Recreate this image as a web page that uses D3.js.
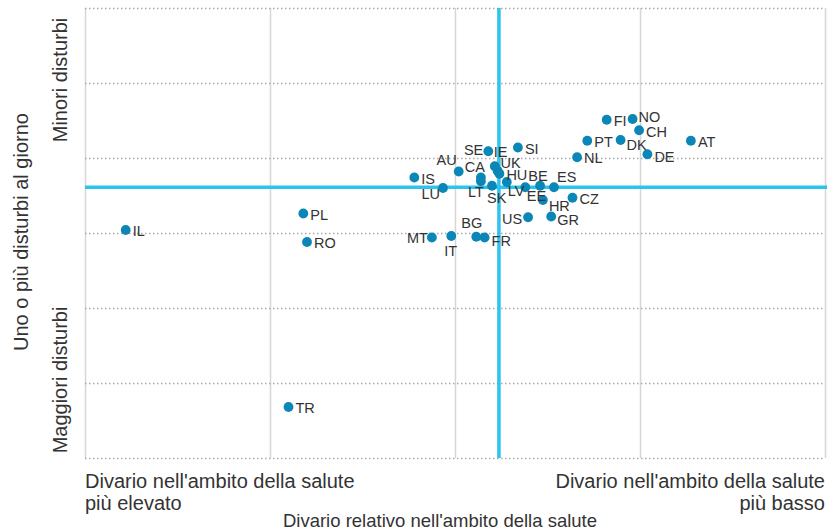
<!DOCTYPE html>
<html>
<head>
<meta charset="utf-8">
<script src="https://cdn.jsdelivr.net/npm/d3@7"></script>
<style>
  body { margin: 0; background: #fff; }
  svg text { font-family: "Liberation Sans", Arial, sans-serif; fill: #333; }
  .grid .domain { display: none; }
  .xgrid line { stroke: #d6d6d6; stroke-width: 1.5; }
  .ygrid line { stroke: #a9a9a9; stroke-width: 1.5; stroke-dasharray: 1.5 2.5; }
  .label { font-size: 14.5px; }
  .axis-title { font-size: 20px; }
  .axis-title.small { font-size: 18.5px; }
</style>
</head>
<body>
<div id="chart"></div>
<script>
"use strict";

// Country codes and their values
var countries = ['FI', 'NO', 'CH', 'PT', 'DK', 'AT', 'DE', 'NL', 'SI', 'SE',
  'IE', 'UK', 'AU', 'CA', 'IS', 'LU', 'LT', 'SK', 'HU', 'LV',
  'BE', 'EE', 'ES', 'HR', 'CZ', 'US', 'GR', 'MT', 'IT', 'BG',
  'FR', 'PL', 'RO', 'IL', 'TR'];

// relative health gap (higher = smaller gap)
var healthGap = [56.4, 59.2, 59.9, 54.3, 57.9, 65.5, 60.8, 53.2, 46.8, 43.6,
  44.3, 44.6, 40.4, 42.8, 35.6, 38.7, 42.8, 44.0, 44.8, 45.6,
  47.6, 49.2, 50.7, 49.5, 52.7, 47.9, 50.4, 37.5, 39.6, 42.3,
  43.2, 23.6, 24.0, 4.4, 22.0];

// one or more complaints a day (higher = fewer complaints)
var complaints = [45.1, 45.2, 43.7, 42.3, 42.4, 42.3, 40.5, 40.1, 41.4, 40.9,
  38.9, 38.3, 38.2, 37.4, 37.4, 36.0, 36.9, 36.3, 37.9, 36.8,
  36.1, 36.3, 36.1, 34.4, 34.7, 32.1, 32.2, 29.4, 29.6, 29.5,
  29.4, 32.6, 28.8, 30.4, 6.8];

var xTicks = [0, 20, 40, 60, 80];
var yTicks = [0, 10, 20, 30, 40, 50, 60];

// averages, drawn as the two blue lines
var gapAverage = 44.75;
var complaintsAverage = 36.1;

// where each label sits next to its dot: [dx, dy, anchor]
var labelNudge = {
  DK: [6, 5, 'start'], DE: [7, 3, 'start'],
  SE: [-5, -1, 'end'], IE: [-1, -14, 'start'], UK: [3, -8, 'start'],
  AU: [-2, -12, 'end'], CA: [4, -11, 'end'], LU: [-3, 6, 'end'],
  LT: [3, 11, 'end'], SK: [-5, 12, 'start'], LV: [1, 9, 'start'],
  BE: [3, -11, 'start'], EE: [6, 10, 'end'], ES: [3, -10, 'start'],
  HR: [6, 6, 'start'], US: [-6, 2, 'end'], GR: [6, 3, 'start'],
  MT: [-4, 0, 'end'], IT: [-7, 15, 'start'], BG: [6, -14, 'end'],
  FR: [7, 3, 'start'], NO: [6, -2, 'start'], CH: [7, 2, 'start'],
  HU: [7, 1, 'start']
};

var width = 837;
var height = 530;
var margin = { top: 8, right: 12, bottom: 72, left: 85 };
var plotW = width - margin.left - margin.right;
var plotH = height - margin.top - margin.bottom;

var svg = d3.select('#chart')
  .append('svg')
    .attr('width', width)
    .attr('height', height);

var x = d3.scaleLinear().domain([0, 80]).range([margin.left, margin.left + plotW]);
var y = d3.scaleLinear().domain([0, 60]).range([margin.top + plotH, margin.top]);

// Gridlines
svg.append('g')
  .attr('class', 'grid xgrid')
  .attr('transform', 'translate(0,' + (margin.top + plotH) + ')')
  .call(d3.axisBottom(x).tickValues(xTicks).tickSize(-plotH).tickFormat(''));

svg.append('g')
  .attr('class', 'grid ygrid')
  .attr('transform', 'translate(' + margin.left + ',0)')
  .call(d3.axisLeft(y).tickValues(yTicks).tickSize(-plotW).tickFormat(''));

// Average lines
svg.append('line')
  .attr('x1', x(gapAverage)).attr('x2', x(gapAverage))
  .attr('y1', y(60)).attr('y2', y(0))
  .attr('stroke', '#2cc3ef').attr('stroke-width', 3.5);

svg.append('line')
  .attr('x1', x(0)).attr('x2', x(80) + 2)
  .attr('y1', y(complaintsAverage)).attr('y2', y(complaintsAverage))
  .attr('stroke', '#2cc3ef').attr('stroke-width', 3.5);

var points = countries.map(function (c, i) {
  return { code: c, gap: healthGap[i], comp: complaints[i] };
});

svg.append('g').selectAll('circle')
  .data(points)
  .enter().append('circle')
    .attr('cx', function (d) { return x(d.gap); })
    .attr('cy', function (d) { return y(d.comp); })
    .attr('r', 4.9)
    .attr('fill', '#0a86b7');

var nudge = function (d) {
  return labelNudge[d.code] || [7, 1, 'start'];
};

svg.append('g').selectAll('text')
  .data(points)
  .enter().append('text')
    .attr('class', 'label')
    .attr('x', function (d) { return x(d.gap) + nudge(d)[0]; })
    .attr('y', function (d) { return y(d.comp) + nudge(d)[1]; })
    .attr('dy', '0.35em')
    .attr('text-anchor', function (d) { return nudge(d)[2]; })
    .text(function (d) { return d.code; });

// Axis titles
var xTitles = [
  { text: "Divario nell'ambito della salute", x: margin.left, y: 488, anchor: 'start' },
  { text: 'più elevato', x: margin.left, y: 510, anchor: 'start' },
  { text: "Divario nell'ambito della salute", x: margin.left + plotW, y: 488, anchor: 'end' },
  { text: 'più basso', x: margin.left + plotW, y: 510, anchor: 'end' },
  { text: "Divario relativo nell'ambito della salute", x: 440, y: 527, anchor: 'middle', cls: 'small' }
];

svg.append('g').selectAll('text')
  .data(xTitles)
  .enter().append('text')
    .attr('class', function (d) { return 'axis-title ' + (d.cls || ''); })
    .attr('x', function (d) { return d.x; })
    .attr('y', function (d) { return d.y; })
    .attr('text-anchor', function (d) { return d.anchor; })
    .text(function (d) { return d.text; });

var yTitles = [
  { text: 'Uno o più disturbi al giorno', x: 28, y: 232 },
  { text: 'Minori disturbi', x: 67, y: 80 },
  { text: 'Maggiori disturbi', x: 67, y: 380 }
];

svg.append('g').selectAll('text')
  .data(yTitles)
  .enter().append('text')
    .attr('class', 'axis-title')
    .attr('text-anchor', 'middle')
    .attr('transform', function (d) {
      return 'translate(' + d.x + ',' + d.y + ') rotate(-90)';
    })
    .text(function (d) { return d.text; });
</script>
</body>
</html>
